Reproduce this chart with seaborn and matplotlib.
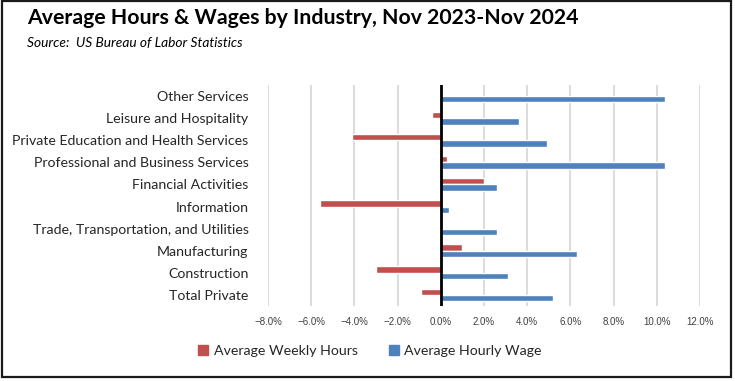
import pandas as pd
import matplotlib.pyplot as plt
import matplotlib.patches as mpatches
from matplotlib.ticker import PercentFormatter
import seaborn as sns

# values (percent change, Nov 2023 - Nov 2024)
industries = [
    "Other Services",
    "Leisure and Hospitality",
    "Private Education and Health Services",
    "Professional and Business Services",
    "Financial Activities",
    "Information",
    "Trade, Transportation, and Utilities",
    "Manufacturing",
    "Construction",
    "Total Private",
]
weekly_hours = [0.0, -0.4, -4.1, 0.3, 2.0, -5.6, 0.0, 1.0, -3.0, -0.9]
hourly_wage = [10.4, 3.6, 4.9, 10.4, 2.6, 0.4, 2.6, 6.3, 3.1, 5.2]
series_names = ["Average Weekly Hours", "Average Hourly Wage"]
series_colors = ["#C0504D", "#4F81BD"]

df = pd.DataFrame({
    "industry": industries * 2,
    "series": [series_names[0]] * len(industries) + [series_names[1]] * len(industries),
    "value": weekly_hours + hourly_wage,
})

sns.set_theme(style="white")
plt.rcParams["font.family"] = ["Lato", "DejaVu Sans"]

fig = plt.figure(figsize=(7.35, 3.81), dpi=100)
ax = fig.add_axes([268 / 735, 1 - 306 / 381, 432 / 735, 221 / 381])

sns.barplot(
    data=df, y="industry", x="value", hue="series",
    order=industries, hue_order=series_names,
    palette=series_colors, orient="h", width=0.58,
    saturation=1, ax=ax, legend=False,
)

ax.set_xlim(-8, 12)
ax.set_ylim(len(industries) - 0.5, -0.5)
ax.set_xticks(range(-8, 13, 2))
ax.xaxis.set_major_formatter(PercentFormatter(decimals=1))
ax.grid(axis="x", color="#d9d9d9", linewidth=1.3)
ax.set_axisbelow(True)
ax.axvline(0, color="black", linewidth=2, zorder=5)
for s in ax.spines.values():
    s.set_visible(False)
ax.set_xlabel("")
ax.set_ylabel("")
ax.tick_params(axis="x", labelsize=7, colors="#404040", length=0, pad=8,
               labelfontfamily="Liberation Sans")
ax.tick_params(axis="y", labelsize=10.2, colors="#262626", length=0, pad=14)

fig.text(27 / 735, 1 - 18 / 381, "Average Hours & Wages by Industry, Nov 2023-Nov 2024",
         fontsize=15.3, fontweight="bold", color="black", va="center", ha="left")
fig.text(27 / 735, 1 - 43 / 381, "Source:  US Bureau of Labor Statistics",
         fontsize=9.9, fontstyle="italic", color="black", va="center", ha="left")

handles = [mpatches.Patch(color=c, label=n) for c, n in zip(series_colors, series_names)]
fig.legend(handles=handles, loc="center", bbox_to_anchor=(370 / 735, 1 - 351 / 381),
           ncol=2, frameon=False, fontsize=10.2, handlelength=0.7, handleheight=0.7,
           columnspacing=2.2, handletextpad=0.4, labelcolor="#262626")

fig.patches.append(mpatches.Rectangle((1.5 / 735, 4 / 381), 729 / 735, 376 / 381,
                                      transform=fig.transFigure, fill=False,
                                      edgecolor="#1a1a1a", linewidth=1.6))

fig.savefig("out.png", dpi=100)
